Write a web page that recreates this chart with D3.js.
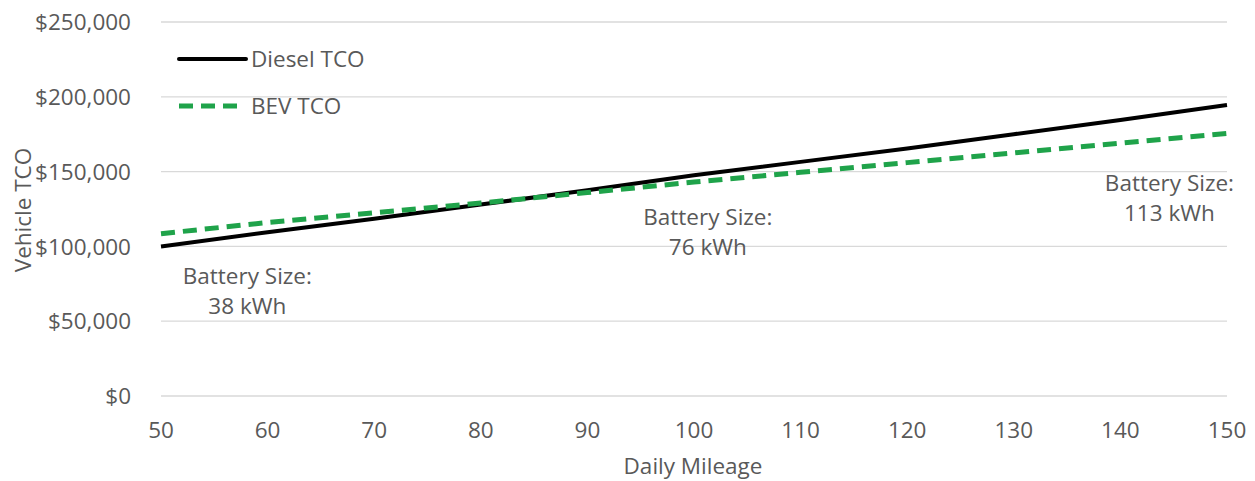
<!DOCTYPE html>
<html><head><meta charset="utf-8">
<script src="https://cdn.jsdelivr.net/npm/d3@7"></script>
<style>body{margin:0;background:#fff;} text{font-family:"Open Sans","Noto Sans",sans-serif;fill:#595959;}</style>
</head><body>
<svg id="c" width="1255" height="481"></svg>
<script>
const mileage = [50,60,70,80,90,100,110,120,130,140,150];
const dieselTCO = [100000,109500,118500,128000,137500,147500,156500,165500,175000,184500,194500];
const bevTCO = [108500,116000,122500,129000,136000,143000,149500,156000,162500,169000,175500];
const yTicks = [0,50000,100000,150000,200000,250000];
const xTicks = [50,60,70,80,90,100,110,120,130,140,150];
const seriesNames = ["Diesel TCO","BEV TCO"];
const annotations = [
  {x:58.1, y:80000, lines:["Battery Size:","38 kWh"]},
  {x:101.3, y:120000, lines:["Battery Size:","76 kWh"]},
  {x:144.6, y:142500, lines:["Battery Size:","113 kWh"]}
];

const FS = 22.5;
const svg = d3.select("#c");
const x = d3.scaleLinear().domain([50,150]).range([161,1227]);
const y = d3.scaleLinear().domain([0,250000]).range([396,22]);

svg.append("g").selectAll("line").data(yTicks).join("line")
  .attr("x1",161).attr("x2",1227).attr("y1",d=>y(d)).attr("y2",d=>y(d))
  .attr("stroke","#d9d9d9").attr("stroke-width",1.3);

const fmt = d3.format(",");
svg.append("g").selectAll("text").data(yTicks).join("text")
  .attr("x",131).attr("y",d=>y(d)).attr("dy","0.36em").attr("text-anchor","end")
  .attr("font-size",FS).text(d=>"$"+fmt(d));

svg.append("g").selectAll("text").data(xTicks).join("text")
  .attr("x",d=>x(d)).attr("y",430).attr("dy","0.36em").attr("text-anchor","middle")
  .attr("font-size",FS).text(d=>d);

svg.append("text").attr("x",693).attr("y",466).attr("dy","0.36em").attr("text-anchor","middle")
  .attr("font-size",FS).text("Daily Mileage");
svg.append("text").attr("transform","translate(23,210) rotate(-90)").attr("dy","0.36em")
  .attr("text-anchor","middle").attr("font-size",FS).text("Vehicle TCO");

const line = d3.line().x((d,i)=>x(mileage[i])).y(d=>y(d));
svg.append("path").datum(dieselTCO).attr("d",line).attr("fill","none")
  .attr("stroke","#000").attr("stroke-width",4);
svg.append("path").datum(bevTCO).attr("d",line).attr("fill","none")
  .attr("stroke","#1FA34A").attr("stroke-width",5).attr("stroke-dasharray","14,8");

annotations.forEach(a=>{
  const t = svg.append("text").attr("text-anchor","middle").attr("font-size",FS);
  a.lines.forEach((l,i)=>{
    t.append("tspan").attr("x",x(a.x)).attr("y",y(a.y)+i*30).attr("dy","0.36em").text(l);
  });
});

const leg = svg.append("g");
leg.append("line").attr("x1",179).attr("x2",246).attr("y1",59).attr("y2",59)
  .attr("stroke","#000").attr("stroke-width",4).attr("stroke-linecap","round");
leg.append("text").attr("x",251).attr("y",59).attr("dy","0.36em").attr("font-size",FS).text(seriesNames[0]);
leg.append("line").attr("x1",179).attr("x2",240).attr("y1",106).attr("y2",106)
  .attr("stroke","#1FA34A").attr("stroke-width",5).attr("stroke-dasharray","14,8").attr("stroke-linecap","butt");
leg.append("text").attr("x",251).attr("y",106).attr("dy","0.36em").attr("font-size",FS).text(seriesNames[1]);
</script>
</body></html>
